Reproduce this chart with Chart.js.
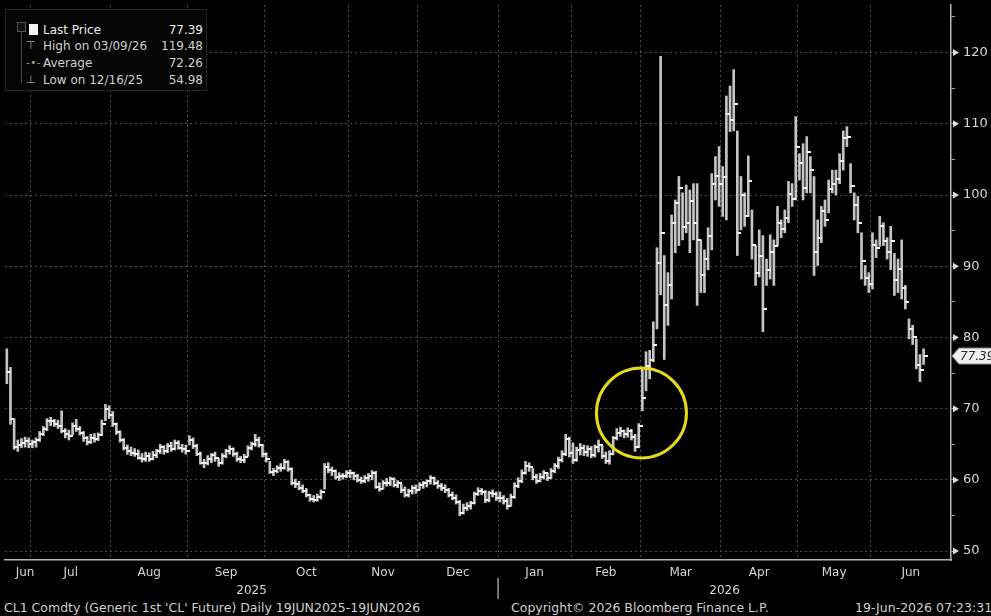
<!DOCTYPE html>
<html>
<head>
<meta charset="utf-8">
<script src="https://cdn.jsdelivr.net/npm/chart.js@4.4.1/dist/chart.umd.min.js"></script>
<style>
  html, body { margin: 0; padding: 0; background: #000; }
  #wrap { position: relative; width: 991px; height: 616px; background: #000; overflow: hidden;
          font-family: "DejaVu Sans", sans-serif; color: #d4d4d4; }
  #chart { position: absolute; left: 0; top: 0; }
  #legend { position: absolute; left: 5px; top: 9px; width: 202px; height: 82px;
            background: #050505; border: 1px solid #262626; box-sizing: border-box; font-size: 12px; }
  #legend .row { position: absolute; left: 0; right: 0; height: 16px; line-height: 16px; white-space: nowrap; }
  #legend .lbl { position: absolute; left: 37px; }
  #legend .val { position: absolute; right: 3px; }
  #legend .ico { position: absolute; left: 20px; color: #9a9a9a; font-size: 11px; }
  #legend .sq { left: 23px; top: 2px; width: 9px; height: 11px; background: #f4f4f4; }
  #legend .tree { position: absolute; left: 15px; top: 13px; width: 1px; height: 60px; background: #4a4a4a; }
  #legend .knot { position: absolute; left: 11px; top: 12px; width: 7px; height: 8px; border: 1px solid #555; background: #111; }
  #footer { position: absolute; left: 0; top: 600px; width: 991px; height: 16px; background: #000; font-size: 12.5px; }
  #footer span { position: absolute; top: 0; line-height: 16px; white-space: nowrap; color: #cfcfcf; }
</style>
</head>
<body>
<div id="wrap">
  <canvas id="chart" width="991" height="600"></canvas>
  <div id="legend"></div>
  <div id="footer"></div>
</div>
<script>
// ---------------------------------------------------------
// CL1 Comdty - generic 1st crude oil future, daily bars
// ---------------------------------------------------------

// calendar: trading days per month, Jun 2025 .. Jun 2026
const monthNames = ["Jun", "Jul", "Aug", "Sep", "Oct", "Nov", "Dec", "Jan", "Feb", "Mar", "Apr", "May", "Jun"];
const monthDays = [7, 22, 21, 21, 23, 19, 22, 20, 19, 22, 21, 20, 15];
const monthYear = ["2025", "2025", "2025", "2025", "2025", "2025", "2025", "2026", "2026", "2026", "2026", "2026", "2026"];
const yearNames = ["2025", "2026"];
const emptyDays = 7; // blank slots after the last bar

// price axis ticks (labels only on the tens)
const yTicks = [50, 55, 60, 65, 70, 75, 80, 85, 90, 95, 100, 105, 110, 115, 120, 125];

// daily highs
const highs = [
  78.4, 75.8, 68.6, 65.6, 65.8, 66.0, 65.9,
  65.6, 65.9, 66.8, 67.5, 68.6, 68.8, 68.5, 68.4, 69.7, 67.2, 67.0, 68.0, 68.5, 67.5, 66.8, 66.1, 66.4, 66.5, 66.6, 68.4, 70.6, 70.4,
  69.6, 68.0, 66.9, 65.8, 64.9, 64.6, 64.4, 64.2, 63.7, 63.9, 63.8, 64.0, 64.3, 65.0, 64.8, 65.1, 65.3, 65.6, 65.5, 65.0, 64.9,
  66.2, 65.9, 65.0, 63.9, 62.9, 63.4, 63.7, 63.9, 63.0, 63.7, 64.3, 64.8, 64.5, 63.9, 63.3, 63.6, 64.8, 65.3, 66.4, 66.0, 65.0,
  63.8, 62.6, 61.6, 62.0, 62.3, 62.9, 62.7, 61.7, 60.1, 59.8, 59.3, 58.8, 58.0, 57.8, 58.0, 58.6, 62.3, 62.4, 61.8, 61.4, 61.0, 60.9, 61.3,
  61.4, 61.1, 60.8, 60.4, 60.6, 60.9, 61.3, 61.2, 59.6, 59.9, 60.2, 60.4, 60.3, 59.9, 59.4, 59.0, 58.7, 59.2, 59.3,
  59.6, 59.8, 60.0, 60.6, 60.4, 59.9, 59.5, 59.3, 58.8, 58.3, 57.9, 57.1, 56.6, 56.8, 57.0, 58.3, 58.9, 58.8, 58.5, 58.4, 58.6, 58.3,
  58.3, 57.8, 57.4, 58.0, 59.6, 60.3, 61.4, 62.6, 62.4, 61.6, 60.8, 60.9, 61.3, 61.0, 61.6, 62.3, 63.2, 64.1, 66.4, 66.0,
  65.2, 64.6, 65.1, 64.9, 64.8, 64.7, 64.9, 65.6, 64.8, 63.9, 64.1, 66.1, 67.2, 67.4, 67.0, 67.3, 67.1, 66.4, 67.9,
  75.6, 78.0, 78.2, 82.2, 92.6, 119.48, 91.5, 89.1, 97.2, 99.3, 102.6, 100.3, 101.4, 100.7, 101.6, 101.6, 93.7, 92.3, 95.4, 103.0, 105.4, 106.8,
  104.0, 113.9, 115.3, 117.6, 109.0, 102.6, 100.3, 105.5, 97.9, 92.9, 95.1, 94.3, 91.0, 94.4, 93.7, 98.4, 96.5, 97.9, 101.9, 101.6, 111.0,
  105.8, 107.2, 108.2, 105.4, 102.6, 96.5, 98.4, 99.3, 102.1, 103.5, 103.5, 105.8, 109.0, 109.6, 104.4, 100.3, 99.8, 94.7, 90.1, 89.1,
  94.7, 93.7, 97.0, 96.1, 94.0, 95.6, 91.8, 91.0, 93.7, 87.3, 82.6, 81.7, 79.8, 77.6, 78.4
];

// daily lows
const lows = [
  73.5, 67.8, 64.3, 64.0, 64.5, 64.6, 64.5,
  64.5, 64.6, 65.4, 66.2, 66.9, 67.6, 67.5, 67.2, 66.6, 65.9, 65.6, 66.3, 66.8, 66.3, 65.4, 64.9, 65.1, 65.3, 65.5, 66.2, 68.3, 68.6,
  67.5, 66.4, 65.3, 64.2, 63.6, 63.4, 63.3, 62.9, 62.5, 62.6, 62.6, 62.8, 63.1, 63.7, 63.6, 63.8, 64.0, 64.2, 64.3, 63.9, 63.6,
  64.9, 64.4, 63.4, 62.2, 61.7, 62.1, 62.4, 62.6, 61.9, 62.2, 63.1, 63.6, 63.3, 62.6, 62.4, 62.4, 63.3, 64.2, 64.7, 64.6, 63.2,
  62.5, 60.9, 60.6, 61.0, 61.2, 61.5, 61.2, 59.3, 58.9, 58.6, 58.2, 57.6, 57.0, 56.9, 57.0, 57.3, 58.7, 61.0, 60.6, 60.1, 59.9, 60.1, 60.3,
  60.3, 60.0, 59.7, 59.5, 59.6, 59.8, 60.0, 58.8, 58.4, 58.7, 59.1, 59.2, 59.0, 58.9, 58.2, 57.6, 57.6, 58.0, 58.1,
  58.6, 58.8, 59.0, 59.4, 59.3, 58.8, 58.5, 58.2, 57.6, 57.2, 56.6, 54.98, 55.2, 55.7, 55.9, 56.6, 57.8, 57.9, 56.8, 56.9, 57.6, 57.1,
  56.9, 56.6, 55.9, 56.3, 57.4, 58.9, 59.6, 60.8, 61.2, 60.0, 59.5, 59.7, 60.1, 59.9, 60.2, 61.0, 61.6, 62.5, 63.4, 63.2,
  62.3, 62.6, 63.5, 63.4, 63.3, 63.1, 63.2, 63.9, 63.0, 62.3, 62.2, 63.5, 65.6, 66.1, 65.9, 66.0, 65.6, 64.0, 64.5,
  69.7, 72.5, 74.2, 76.6, 81.2, 86.0, 76.9, 81.7, 85.4, 91.9, 92.9, 93.7, 94.7, 91.9, 93.7, 84.5, 86.3, 86.3, 89.5, 92.3, 99.3, 98.4,
  97.0, 96.5, 108.9, 109.0, 91.5, 95.1, 95.6, 97.0, 91.0, 87.3, 88.5, 80.8, 87.3, 88.2, 87.3, 92.9, 94.0, 94.7, 96.1, 98.4, 99.3,
  102.1, 99.3, 100.3, 100.3, 88.7, 90.1, 93.3, 95.6, 97.5, 100.3, 100.0, 101.6, 103.5, 106.8, 100.3, 96.5, 94.7, 88.2, 87.3, 86.3,
  86.8, 91.2, 92.8, 92.9, 91.0, 89.5, 85.9, 86.3, 85.4, 84.0, 79.8, 79.0, 75.6, 73.8, 76.2
];

// daily closes
const closes = [
  75.1, 68.5, 64.6, 64.9, 65.2, 65.5, 65.1,
  65.3, 65.6, 66.5, 67.1, 68.2, 68.3, 67.9, 67.6, 66.9, 66.4, 66.2, 67.6, 67.2, 66.6, 65.9, 65.3, 65.9, 65.8, 66.3, 67.9, 69.9, 69.1,
  67.8, 66.7, 65.6, 64.5, 64.0, 63.8, 63.6, 63.1, 62.9, 63.3, 63.0, 63.5, 64.0, 64.6, 64.0, 64.7, 64.3, 65.2, 64.5, 64.3, 64.1,
  65.6, 64.8, 63.7, 62.4, 62.3, 62.9, 63.5, 63.1, 62.4, 63.4, 64.0, 64.4, 63.6, 62.9, 62.8, 63.2, 64.5, 65.0, 65.6, 64.9, 63.6,
  62.9, 61.1, 61.3, 61.7, 61.6, 62.5, 61.5, 59.5, 59.4, 58.9, 58.5, 57.9, 57.3, 57.2, 57.6, 58.3, 61.8, 61.4, 61.2, 60.4, 60.5, 60.5, 60.9,
  61.0, 60.5, 60.0, 59.8, 60.2, 60.5, 61.0, 59.0, 58.7, 59.6, 59.5, 60.1, 59.3, 59.6, 58.6, 57.9, 58.4, 58.8, 58.6,
  59.3, 59.5, 59.8, 60.2, 59.6, 59.1, 58.9, 58.6, 57.9, 57.5, 56.9, 55.4, 56.1, 56.4, 56.7, 58.0, 58.5, 58.3, 57.2, 58.1, 58.0, 57.5,
  57.4, 57.0, 56.4, 57.6, 59.2, 59.8, 61.0, 61.9, 61.8, 60.4, 59.9, 60.4, 60.9, 60.3, 61.3, 61.9, 62.8, 63.6, 65.8, 63.8,
  62.8, 64.2, 64.5, 63.9, 64.4, 63.5, 64.6, 64.9, 63.4, 62.7, 63.7, 65.9, 66.6, 66.9, 66.4, 66.8, 66.0, 64.6, 67.5,
  71.5, 76.0, 76.8, 79.0, 90.5, 94.7, 84.5, 87.3, 96.0, 98.9, 101.0, 95.5, 96.1, 99.1, 96.1, 93.7, 88.7, 91.0, 94.3, 101.5, 102.6, 101.6,
  102.5, 111.4, 110.5, 112.8, 94.7, 100.0, 97.0, 102.0, 93.0, 89.0, 91.5, 84.0, 89.5, 92.0, 92.9, 96.0, 95.2, 96.8, 100.2, 99.5, 106.8,
  104.5, 101.0, 106.0, 103.5, 92.0, 94.0, 97.8, 96.5, 100.8, 101.5, 102.2, 104.8, 108.0, 108.2, 101.2, 98.6, 96.0, 90.8, 88.4, 87.5,
  93.0, 92.5, 95.6, 93.5, 92.0, 93.6, 88.0, 89.6, 87.0, 85.0, 81.2, 80.0, 76.2, 75.4, 77.39
];

// legend box text
const legendLabels = ["Last Price", "High on 03/09/26", "Average", "Low on 12/16/25"];
const legendValues = ["77.39", "119.48", "72.26", "54.98"];

// footer text
const footerLeft = "CL1 Comdty (Generic 1st 'CL' Future) Daily 19JUN2025-19JUN2026";
const footerMid = "Copyright\u00A9 2026 Bloomberg Finance L.P.";
const footerRight = "19-Jun-2026 07:23:31";

// yellow circle annotation (day index, price)
const circleAt = { day: 173.75, price: 69.4 };

const FONT = '"DejaVu Sans", sans-serif';

// --- build categories from the calendar ---
const monthStarts = [];
const dayLabels = [];
let n = 0;
monthDays.forEach((d, m) => {
  monthStarts.push(n);
  for (let k = 0; k < d; k++) dayLabels.push(monthNames[m] + " " + (k + 1) + " " + monthYear[m]);
  n += d;
});
for (let k = 0; k < emptyDays; k++) dayLabels.push("");
const slots = dayLabels.length;

const monthCenters = monthStarts.map((s, m) => {
  const e = m + 1 < monthStarts.length ? monthStarts[m + 1] : slots;
  return (s + e) / 2 - 0.5;
});
monthCenters[0] += 2; // first label sits a bit right of the short June stub
const yearStarts = yearNames.map(y => monthStarts[monthYear.indexOf(y)]);
const yearCenters = yearStarts.map((s, k) => {
  const e = k + 1 < yearStarts.length ? yearStarts[k + 1] : slots;
  return (s + e) / 2 - 0.5;
});

// --- legend + footer as real text ---
const legend = document.getElementById("legend");
let html = '<div class="tree"></div><div class="knot"></div>';
const icons = ['<span class="ico sq"></span>', '<span class="ico">\u22A4</span>', '<span class="ico">-\u2022-</span>', '<span class="ico">\u22A5</span>'];
const rowTops = [12, 28, 45, 62];
legendLabels.forEach((l, i) => {
  const col = i === 0 ? "#ececec" : "#cfcfcf";
  html += `<div class="row" style="top:${rowTops[i]}px;color:${col}">${icons[i]}<span class="lbl">${l}</span><span class="val">${legendValues[i]}</span></div>`;
});
legend.innerHTML = html;

document.getElementById("footer").innerHTML =
  `<span style="left:4px">${footerLeft}</span><span style="left:511px">${footerMid}</span><span style="left:855px">${footerRight}</span>`;

// close tick, drawn to the right of the bar
function closeTick() {
  const c = document.createElement("canvas");
  c.width = 8; c.height = 2;
  const g = c.getContext("2d");
  g.fillStyle = "#f2f2f2";
  g.fillRect(4, 0, 4, 2);
  return c;
}

// extra drawing: circle, axis arrows, last price tag, year divider
const extras = {
  id: "extras",
  afterDatasetsDraw(chart) {
    const { ctx, scales: { x, y } } = chart;
    ctx.save();
    ctx.strokeStyle = "#e4d91c";
    ctx.lineWidth = 3;
    ctx.beginPath();
    ctx.arc(x.getPixelForValue(circleAt.day), y.getPixelForValue(circleAt.price), 45, 0, Math.PI * 2);
    ctx.stroke();
    ctx.restore();
  },
  afterDraw(chart) {
    const { ctx, chartArea, scales: { x, y } } = chart;
    ctx.save();
    ctx.fillStyle = "#dcdcdc";
    y.ticks.forEach(t => {
      if (t.value % 10 !== 0) return;
      const py = y.getPixelForValue(t.value);
      ctx.beginPath();
      ctx.moveTo(chartArea.right + 2, py - 3.5);
      ctx.lineTo(chartArea.right + 8, py);
      ctx.lineTo(chartArea.right + 2, py + 3.5);
      ctx.closePath();
      ctx.fill();
    });

    const last = closes[closes.length - 1];
    const py = y.getPixelForValue(last);
    const x0 = chartArea.right + 1;
    ctx.beginPath();
    ctx.moveTo(x0, py);
    ctx.lineTo(x0 + 7, py - 8);
    ctx.lineTo(chart.width + 2, py - 8);
    ctx.lineTo(chart.width + 2, py + 8);
    ctx.lineTo(x0 + 7, py + 8);
    ctx.closePath();
    ctx.fillStyle = "#f0f0f0";
    ctx.fill();
    ctx.strokeStyle = "#8a8a8a";
    ctx.lineWidth = 1;
    ctx.stroke();
    ctx.fillStyle = "#2a2a2a";
    ctx.font = "italic 12px " + FONT;
    ctx.textBaseline = "middle";
    ctx.fillText(last.toFixed(2), x0 + 8, py + 1);

    // year divider on the axis
    const yx = x.getPixelForValue(yearStarts[1] - 0.5);
    ctx.strokeStyle = "#9a9a9a";
    ctx.lineWidth = 1.5;
    ctx.beginPath();
    ctx.moveTo(yx, chartArea.bottom + 18);
    ctx.lineTo(yx, chartArea.bottom + 39);
    ctx.stroke();
    ctx.restore();
  }
};

const noPad = s => { s.paddingLeft = 0; s.paddingRight = 0; s.paddingTop = 0; s.paddingBottom = 0; };

new Chart(document.getElementById("chart"), {
  type: "bar",
  data: {
    labels: dayLabels,
    datasets: [
      {
        type: "bar",
        data: lows.map((l, i) => [l, highs[i]]),
        backgroundColor: "#c4c4c4",
        barThickness: 2,
        grouped: false,
        order: 2
      },
      {
        type: "line",
        data: closes,
        showLine: false,
        pointStyle: closeTick(),
        pointRadius: 3,
        order: 1
      }
    ]
  },
  options: {
    responsive: false,
    animation: false,
    devicePixelRatio: 1,
    events: [],
    layout: { padding: { left: 1.35, right: 0, top: 0, bottom: 0 } },
    plugins: { legend: { display: false }, tooltip: { enabled: false } },
    scales: {
      x: {
        type: "category",
        offset: true,
        position: "bottom",
        weight: 0,
        grid: { color: "#4c4c4c", lineWidth: 1, drawTicks: false, offset: false },
        border: { color: "#b4b4b4", width: 1.5, dash: [2, 3] },
        ticks: { callback: () => "", autoSkip: false, maxRotation: 0 },
        afterBuildTicks: s => { s.ticks = monthStarts.slice(1).map(v => ({ value: v - 0.5 })); },
        afterFit: s => { s.height = 4; noPad(s); }
      },
      x2: {
        type: "category",
        offset: true,
        position: "bottom",
        weight: 1,
        grid: { display: false, drawTicks: false },
        border: { display: false },
        ticks: {
          color: "#d6d6d6", font: { size: 12, family: FONT }, padding: 2,
          autoSkip: false, maxRotation: 0, callback: (v, i) => monthNames[i]
        },
        afterBuildTicks: s => { s.ticks = monthCenters.map(v => ({ value: v })); },
        afterFit: s => { s.height = 18; noPad(s); }
      },
      x3: {
        type: "category",
        offset: true,
        position: "bottom",
        weight: 2,
        grid: { display: false, drawTicks: false },
        border: { display: false },
        ticks: {
          color: "#d6d6d6", font: { size: 12, family: FONT }, padding: 2,
          autoSkip: false, maxRotation: 0, callback: (v, i) => yearNames[i]
        },
        afterBuildTicks: s => { s.ticks = yearCenters.map(v => ({ value: v })); },
        afterFit: s => { s.height = 18; noPad(s); }
      },
      y: {
        position: "right",
        min: 48.75,
        max: 126.68,
        grid: {
          color: c => (c.tick && c.tick.value % 10 === 0 ? "#4c4c4c" : "rgba(0,0,0,0)"),
          tickColor: "#a8a8a8",
          tickLength: 4
        },
        border: { color: "#b4b4b4", width: 1.5, dash: [2, 3] },
        ticks: {
          color: "#d6d6d6",
          font: { size: 13, family: FONT },
          padding: 8,
          callback: v => (v % 10 === 0 ? String(v) : "")
        },
        afterBuildTicks: s => { s.ticks = yTicks.map(v => ({ value: v })); },
        afterFit: s => { s.width = 40; noPad(s); }
      }
    }
  },
  plugins: [extras]
});
</script>
</body>
</html>
